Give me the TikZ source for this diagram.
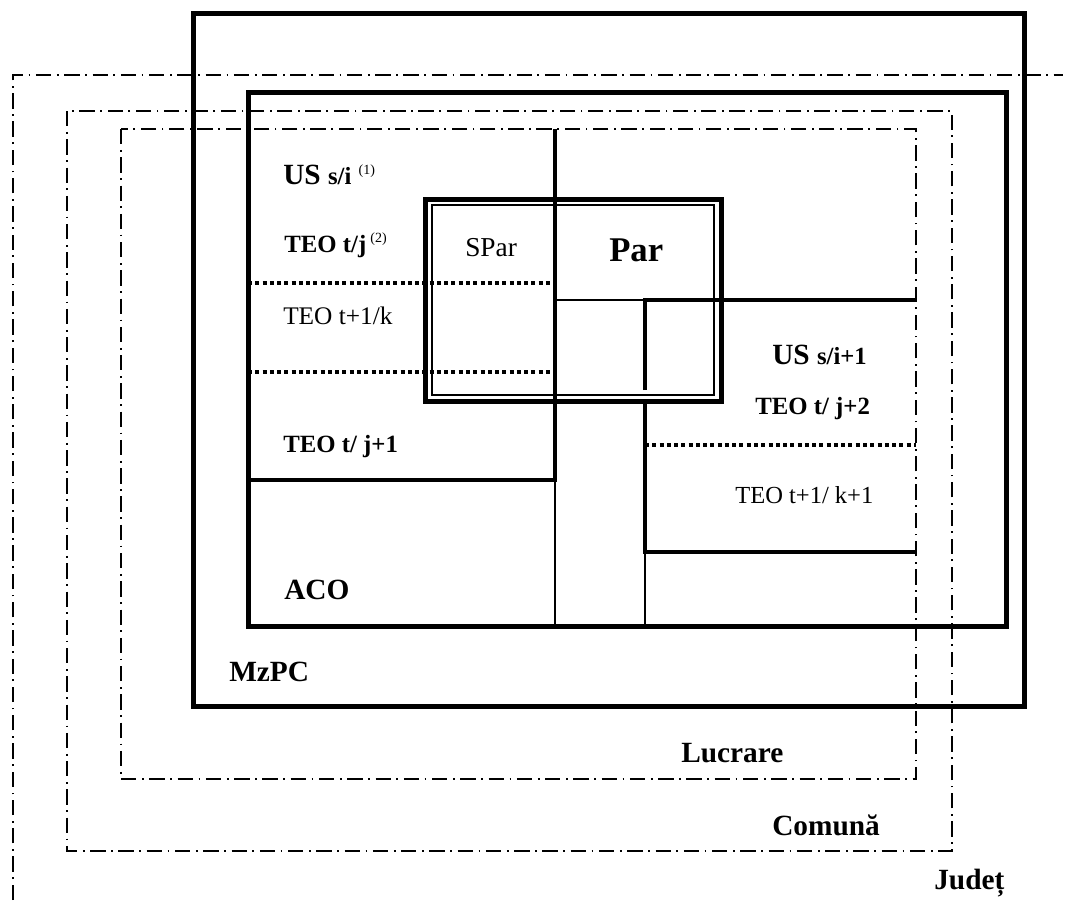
\documentclass[tikz,border=0pt]{standalone}
\usepackage{fontspec}
\setmainfont{Liberation Serif}
\usepackage{tikz}
\usetikzlibrary{positioning}
\newcommand\supnote[1]{\raisebox{6.8pt}{\fontsize{10.5}{12}\selectfont\mdseries(#1)}}
\newcommand\smallbf{\fontsize{18.5}{20}\selectfont\bfseries}

\begin{document}
\begin{tikzpicture}[x=0.75pt, y=-0.75pt,
    frame/.style={line width=3.75pt},
    part/.style={line width=3.3pt},
    hairline/.style={line width=1.1pt},
    dotline/.style={line width=3pt, dash pattern=on 3pt off 2.45pt},
    dashdot/.style={line width=1.4pt, dash pattern=on 11.5pt off 4.2pt on 1.3pt off 4.2pt},
    lblbig/.style={anchor=base west, inner sep=0pt, font=\fontsize{22}{24}\selectfont\bfseries},
    lblteo/.style={anchor=base west, inner sep=0pt, font=\fontsize{18.6}{20}\selectfont\bfseries},
    lblreg/.style={anchor=base west, inner sep=0pt, font=\fontsize{19}{21}\selectfont}]
  \useasboundingbox (0,0) rectangle (1067,900);
  \draw[dashdot] (13,900) -- (13,75) -- (1063,75);
  \draw[dashdot] (67,111) rectangle (952,851);
  \draw[dashdot] (121,129) rectangle (916,779);
  \draw[frame] (193,13) rectangle (1024,706);
  \draw[frame] (248,92) rectangle (1006,626);
  \draw[frame] (425,199) rectangle (721,401);
  \draw[line width=0.9pt] (432,205) rectangle (714,395);
  \draw[part] (555,129) -- (555,480) -- (248,480);
  \draw[hairline] (555,480) -- (555,626);
  \draw[hairline] (555,300) -- (645,300);
  \draw[part] (645,390) -- (645,300) -- (916,300);
  \draw[part] (645,403) -- (645,552) -- (916,552);
  \draw[hairline] (645,552) -- (645,626);
  \draw[dotline] (248,283) -- (555,283);
  \draw[dotline] (248,372) -- (555,372);
  \draw[dotline] (645,445) -- (916,445);
  \node[lblbig] (usa) at (283,184) {US {\smallbf s/i} \supnote{1}};
  \node[lblteo] (teoa) at (284,252) {TEO t/j\,\supnote{2}};
  \node[lblreg, font=\fontsize{20.5}{22}\selectfont] (spar) at (465,256) {SPar};
  \node[lblbig, font=\fontsize{26}{28}\selectfont\bfseries] (par) at (609,261) {Par};
  \node[lblreg] (teob) at (283,324) {TEO t+1/k};
  \node[lblteo] (teoc) at (283,452) {TEO t/ j+1};
  \node[lblbig] (aco) at (284,599) {ACO};
  \node[lblbig] (usb) at (772,364) {US {\smallbf s/i+1}};
  \node[lblteo] (teod) at (755,414) {TEO t/ j+2};
  \node[lblreg, font=\fontsize{18.4}{20}\selectfont] (teoe) at (735,503) {TEO t+1/ k+1};
  \node[lblbig] (mzpc) at (229,681) {MzPC};
  \node[lblbig] (lucr) at (681,762) {Lucrare};
  \node[lblbig] (com) at (772,835) {Comună};
  \node[lblbig] (jud) at (934,889) {Județ};
\end{tikzpicture}
\end{document}
